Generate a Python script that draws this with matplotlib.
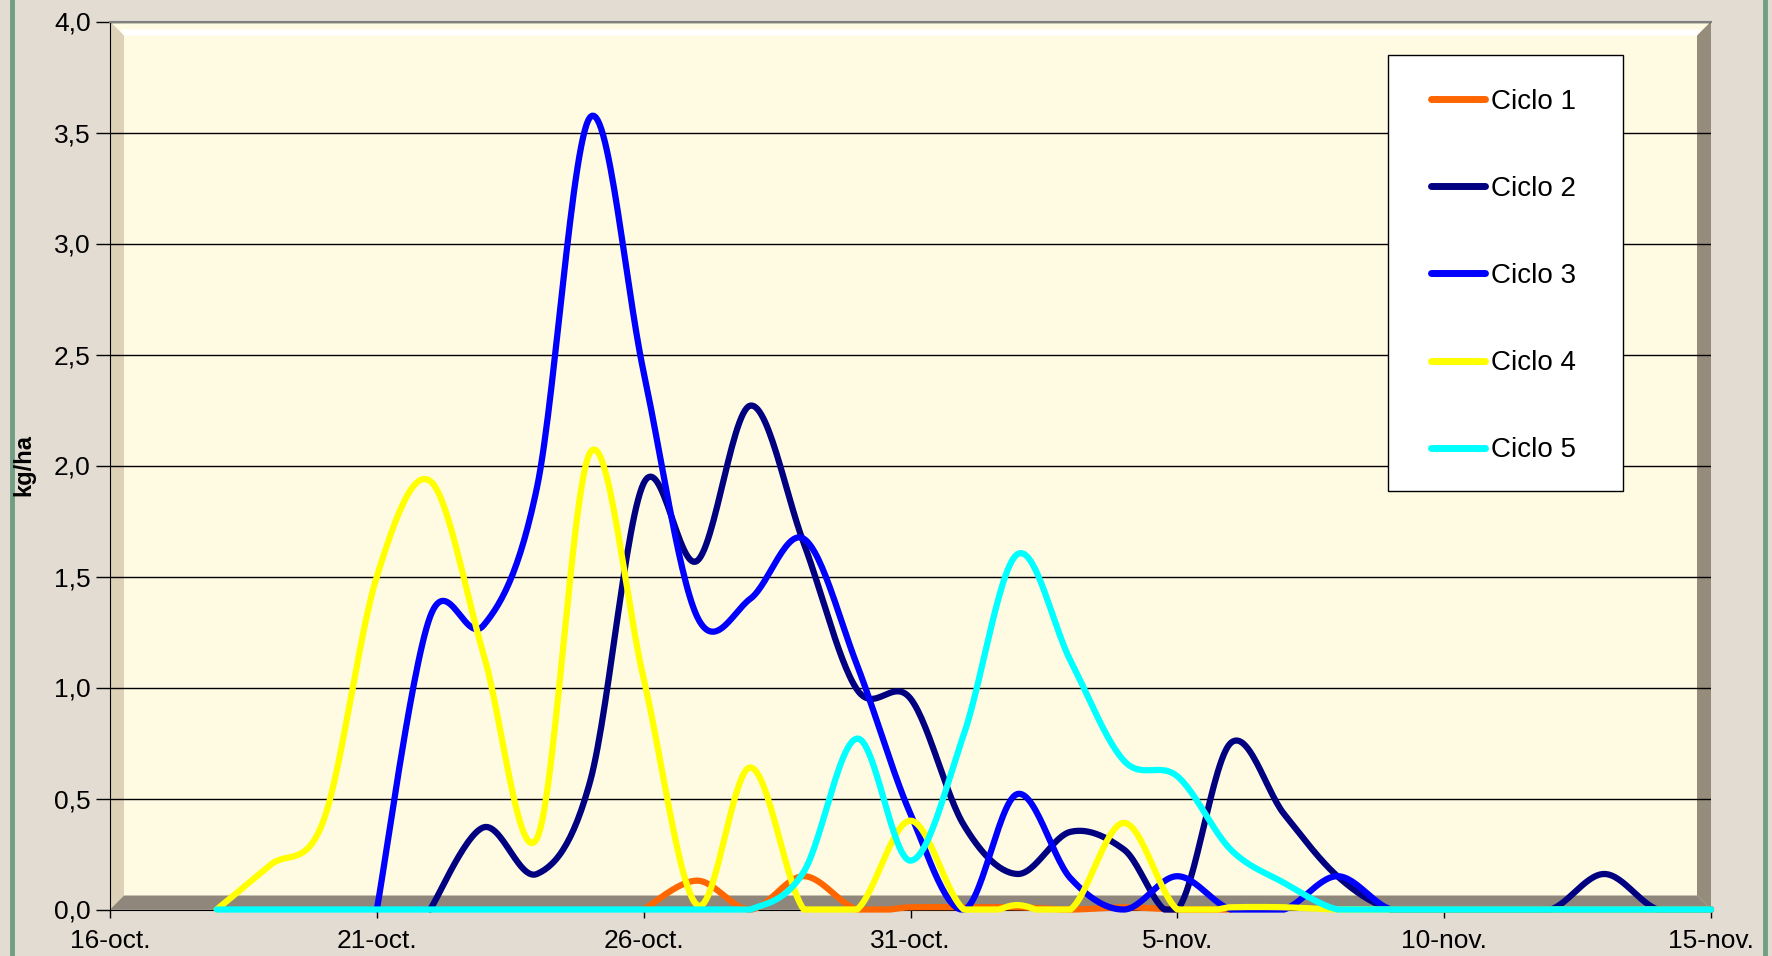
import numpy as np
import matplotlib
matplotlib.use("Agg")
import matplotlib.pyplot as plt
from matplotlib.patches import Polygon, Rectangle
from matplotlib.lines import Line2D

plt.rcParams['font.family'] = ['Liberation Sans', 'DejaVu Sans']

# ---- data (day index 0 = 16-oct) ----
tick_days = [0, 5, 10, 15, 20, 25, 30]
tick_labels = ["16-oct.", "21-oct.", "26-oct.", "31-oct.", "5-nov.", "10-nov.", "15-nov."]

series_names = ["Ciclo 1", "Ciclo 2", "Ciclo 3", "Ciclo 4", "Ciclo 5"]
series_colors = ["#FF6600", "#000080", "#0000FF", "#FFFF00", "#00FFFF"]

c1_days = list(range(10, 22))
c1_vals = [0.0, 0.13, 0.0, 0.15, 0.0, 0.01, 0.01, 0.01, 0.0, 0.01, 0.0, 0.0]

c2_days = list(range(6, 31))
c2_vals = [0.0, 0.37, 0.16, 0.58, 1.92, 1.57, 2.27, 1.65, 0.99, 0.95, 0.38, 0.16,
           0.35, 0.27, 0.0, 0.75, 0.43, 0.15, 0.0, 0.0, 0.0, 0.0, 0.16, 0.0, 0.0]

c3_days = list(range(5, 31))
c3_vals = [0.0, 1.32, 1.28, 1.9, 3.57, 2.42, 1.32, 1.4, 1.67, 1.1, 0.43, 0.0,
           0.52, 0.14, 0.0, 0.15, 0.0, 0.0, 0.15, 0.0, 0.0, 0.0, 0.0, 0.0, 0.0, 0.0]

c4_days = list(range(2, 31))
c4_vals = [0.0, 0.2, 0.4, 1.5, 1.93, 1.15, 0.32, 2.06, 1.04, 0.02, 0.64, 0.0,
           0.0, 0.4, 0.0, 0.02, 0.0, 0.39, 0.0, 0.01, 0.01, 0.0, 0.0, 0.0, 0.0,
           0.0, 0.0, 0.0, 0.0]

c5_days = list(range(2, 31))
c5_vals = [0.0, 0.0, 0.0, 0.0, 0.0, 0.0, 0.0, 0.0, 0.0, 0.0, 0.0, 0.17,
           0.77, 0.22, 0.79, 1.6, 1.12, 0.67, 0.6, 0.27, 0.12, 0.0, 0.0, 0.0,
           0.0, 0.0, 0.0, 0.0, 0.0]

all_days = [c1_days, c2_days, c3_days, c4_days, c5_days]
all_vals = [c1_vals, c2_vals, c3_vals, c4_vals, c5_vals]


def smooth(xs, ys, n=30):
    """Excel-like smoothed line (Catmull-Rom as cubic Bezier)."""
    x = np.asarray(xs, float)
    y = np.asarray(ys, float)
    px = np.concatenate([[x[0]], x, [x[-1]]])
    py = np.concatenate([[y[0]], y, [y[-1]]])
    t = np.linspace(0, 1, n)[:, None]
    outx, outy = [], []
    for i in range(1, len(px) - 2):
        p0 = np.array([px[i - 1], py[i - 1]])
        p1 = np.array([px[i], py[i]])
        p2 = np.array([px[i + 1], py[i + 1]])
        p3 = np.array([px[i + 2], py[i + 2]])
        b1 = p1 + (p2 - p0) / 6.0
        b2 = p2 - (p3 - p1) / 6.0
        pts = ((1 - t) ** 3) * p1 + 3 * ((1 - t) ** 2) * t * b1 + 3 * (1 - t) * t ** 2 * b2 + t ** 3 * p2
        outx.append(pts[:, 0])
        outy.append(pts[:, 1])
    return np.concatenate(outx), np.maximum(np.concatenate(outy), 0.0)


W, H = 1772, 956
fig = plt.figure(figsize=(W / 100, H / 100), dpi=100)
fig.patch.set_facecolor("#E2DCD2")

# decorative green vertical rules
fig.add_artist(Line2D([12 / W, 12 / W], [0, 1], transform=fig.transFigure, color="#6F9E82", lw=3.5, zorder=-1))
fig.add_artist(Line2D([1765 / W, 1765 / W], [0, 1], transform=fig.transFigure, color="#6F9E82", lw=3.5, zorder=-1))

ax_l, ax_r, ax_t, ax_b = 110, 1711, 21.5, 909.5
ax = fig.add_axes([ax_l / W, 1 - ax_b / H, (ax_r - ax_l) / W, (ax_b - ax_t) / H])
ax.set_facecolor("#FFFBE3")

# bevel frame (axes-fraction coordinates)
bw = 14 / (ax_r - ax_l)
bh = 14 / (ax_b - ax_t)
ax.add_patch(Polygon([(0, 0), (bw, bh), (bw, 1 - bh), (0, 1)], closed=True,
                     transform=ax.transAxes, facecolor="#DDD1B8", edgecolor="none", zorder=0.5))
ax.add_patch(Polygon([(1, 0), (1 - bw, bh), (1 - bw, 1 - bh), (1, 1)], closed=True,
                     transform=ax.transAxes, facecolor="#968C7C", edgecolor="none", zorder=0.5))
ax.add_patch(Polygon([(0, 0), (bw, bh), (1 - bw, bh), (1, 0)], closed=True,
                     transform=ax.transAxes, facecolor="#8F877B", edgecolor="none", zorder=0.5))
bh2 = 8 / (ax_b - ax_t)
ax.add_patch(Polygon([(bw * 0.7, 1 - bh2), (bw, 1 - bh), (1 - bw, 1 - bh), (1 - bw * 0.7, 1 - bh2)], closed=True,
                     transform=ax.transAxes, facecolor="#FFFFFF", edgecolor="none", zorder=0.5))

ax.set_xlim(0, 30)
ax.set_ylim(0, 4.0)
ax.set_yticks(np.arange(0, 4.01, 0.5))
ax.set_yticklabels([f"{v:.1f}".replace(".", ",") for v in np.arange(0, 4.01, 0.5)])
ax.set_xticks(tick_days)
ax.set_xticklabels(tick_labels)
ax.tick_params(axis="both", direction="out", labelsize=19, colors="black", width=1)
ax.tick_params(axis="y", length=10, pad=4)
ax.tick_params(axis="x", length=6, pad=8)
ax.yaxis.grid(True, color="black", lw=1, zorder=1)
ax.set_axisbelow(True)
ax.spines["right"].set_visible(False)
ax.spines["top"].set_color("#808080")
ax.spines["top"].set_linewidth(1.5)
ax.spines["left"].set_color("black")
ax.spines["bottom"].set_color("black")

ax.set_ylabel("kg/ha", fontsize=17, fontweight="bold")
ax.yaxis.set_label_coords((35 - ax_l) / (ax_r - ax_l), 0.5)

for d, v, c, name in zip(all_days, all_vals, series_colors, series_names):
    sx, sy = smooth(d, v)
    ax.plot(sx, sy, color=c, lw=4.5, solid_capstyle="round", clip_on=False, zorder=3, label=name)

# legend box
fig.add_artist(Rectangle((1388 / W, 1 - 491 / H), (1623 - 1388) / W, (491 - 55) / H,
                         transform=fig.transFigure, facecolor="white", edgecolor="black", lw=1, zorder=3))
handles, labels = ax.get_legend_handles_labels()
leg = fig.legend(handles, labels, loc="upper left", bbox_to_anchor=(1431 / W, 1 - 89 / H),
                 frameon=False, fontsize=20, handlelength=1.95, handletextpad=0.2,
                 labelspacing=2.2, borderpad=0, borderaxespad=0)
leg.set_zorder(4)
for lh in leg.get_lines():
    lh.set_linewidth(5)

fig.savefig("out.png", dpi=100, facecolor=fig.get_facecolor())
